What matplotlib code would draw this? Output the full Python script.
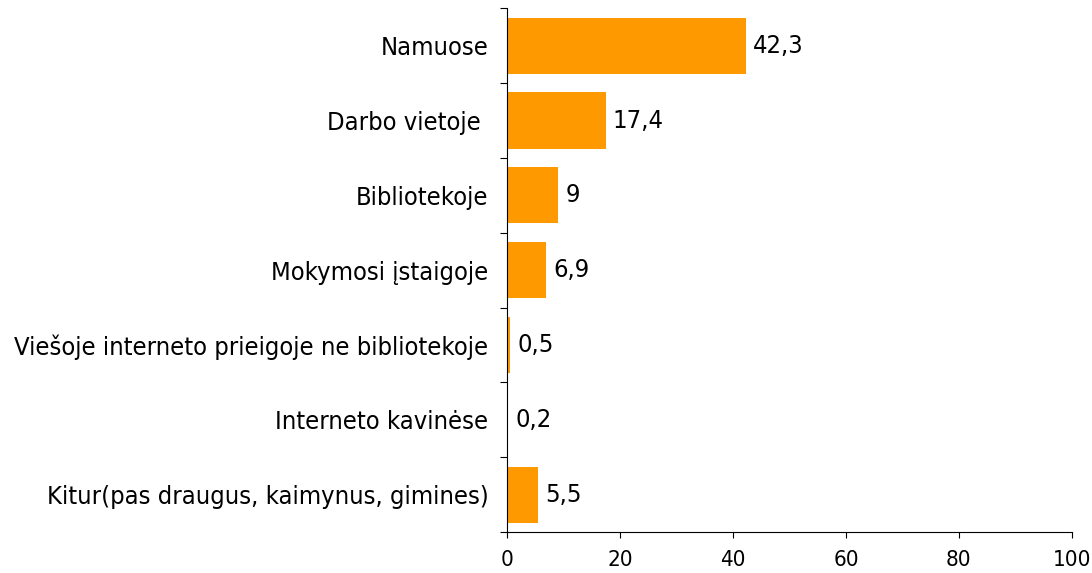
import numpy as np
import matplotlib.pyplot as plt

plt.rcParams['font.family'] = ['DejaVu Sans']
plt.rcParams['font.stretch'] = 'condensed'

vietos = ['Namuose', 'Darbo vietoje ', 'Bibliotekoje', 'Mokymosi įstaigoje',
          'Viešoje interneto prieigoje ne bibliotekoje', 'Interneto kavinėse',
          'Kitur(pas draugus, kaimynus, gimines)']
procentai = [42.3, 17.4, 9, 6.9, 0.5, 0.2, 5.5]
x_ticks = [0, 20, 40, 60, 80, 100]

W, H = 1092, 573
fig = plt.figure(figsize=(W / 100, H / 100), dpi=100)
# axes box in pixels: x 507..1072, y 8..532
ax = fig.add_axes([507.3 / W, 1 - 532 / H, (1071.7 - 507.3) / W, (532 - 8.3) / H])

y = np.arange(len(vietos))
ax.barh(y, procentai, height=0.75, color='#FF9900')
ax.set_ylim(len(vietos) - 0.5, -0.5)
ax.set_xlim(0, 100)

for yi, v in zip(y, procentai):
    txt = str(v).replace('.', ',')
    if txt.endswith(',0'):
        txt = txt[:-2]
    ax.text(v + 1.25, yi, txt, va='center', ha='left', fontsize=18.3)

ax.set_yticks(y)
ax.set_yticklabels(vietos, fontsize=18.3)
ax.tick_params(axis='y', which='major', length=0, pad=13.7)
ax.set_yticks(np.arange(-0.5, len(vietos)), minor=True)
ax.tick_params(axis='y', which='minor', length=5, width=0.8)

ax.set_xticks(x_ticks)
ax.tick_params(axis='x', length=4.3, width=0.8, labelsize=16, pad=9)

for s in ['top', 'right']:
    ax.spines[s].set_visible(False)
for s in ['left', 'bottom']:
    ax.spines[s].set_linewidth(0.8)

fig.savefig('out.png', dpi=100)
